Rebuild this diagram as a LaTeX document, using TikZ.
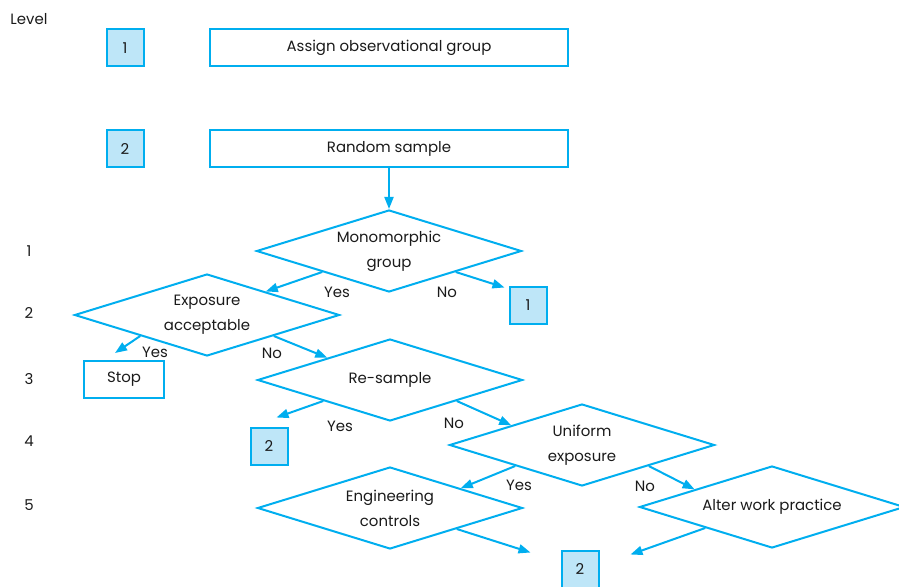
\documentclass[tikz,border=0pt]{standalone}
\usepackage{fontspec}
\setmainfont{Poppins}
\usepackage{tikz}
\usetikzlibrary{
  shapes.geometric,
  calc,
  arrows.meta
}
\definecolor{flowline}{HTML}{00AEEF}
\definecolor{flowfill}{HTML}{BEE6F8}
\definecolor{textmain}{HTML}{1A1A1A}

\begin{document}
\begin{tikzpicture}[x=1bp, y=-1bp,
    every node/.style={font=\fontsize{15}{25}\selectfont, text=textmain},
    fbox/.style={draw=flowline, line width=2bp, minimum height=37bp,
                 inner sep=0pt},
    numbox/.style={fbox, fill=flowfill, minimum width=37bp},
    dbox/.style={diamond, aspect=3.23, draw=flowline, line width=2bp,
                 inner sep=0pt, minimum width=265bp, minimum height=82bp,
                 align=center},
    arr/.style={draw=flowline, line width=2bp,
                -{Triangle[length=12bp,width=9bp]}},
  ]
  \useasboundingbox (0,0) rectangle (899,587);

  \node (level) at (29,19) {Level};
  \foreach \l/\y in {1/251,2/313,3/379,4/441,5/505}
    \node (lv\l) at (29,\y) {\l};

  \node[numbox] (top1) at (125,48)  {1};
  \node[fbox, minimum width=358bp] (assign) at (389,47.5) {Assign observational group};
  \node[numbox] (top2) at (125,149) {2};
  \node[fbox, minimum width=358bp] (rand) at (389,148.5) {Random sample};

  \node[dbox] (mono)  at (389,251) {Monomorphic\\group};
  \node[dbox] (expo)  at (207,315) {Exposure\\acceptable};
  \node[dbox] (resam) at (390,380) {Re-sample};
  \node[dbox] (unif)  at (582,445) {Uniform\\exposure};
  \node[dbox] (eng)   at (390,508) {Engineering\\controls};
  \node[dbox] (alter) at (772,507) {Alter work practice};

  \node[numbox] (back1) at (528,305) {1};
  \node[fbox, minimum width=80bp] (stop) at (124,379.5) {Stop};
  \node[numbox] (back2a) at (269,446) {2};
  \node[numbox] (back2b) at (580,569) {2};

  \draw[arr] (rand.south) -- (mono.north);
  \draw[arr] ($(mono.west)!.5!(mono.south)$) -- ($(expo.north)!.44!(expo.east)$);
  \draw[arr] ($(mono.south)!.5!(mono.east)$) -- ($(back1.north west)+(-4,2)$);
  \draw[arr] ($(expo.west)!.5!(expo.south)$) -- ($(stop.north)+(-9,-7)$);
  \draw[arr] ($(expo.south)!.5!(expo.east)$) -- ($(resam.north)!.47!(resam.west)$);
  \draw[arr] ($(resam.west)!.5!(resam.south)$) -- ($(back2a.north east)+(-12,-9)$);
  \draw[arr] ($(resam.south)!.5!(resam.east)$) -- ($(unif.north)!.53!(unif.west)$);
  \draw[arr] ($(unif.west)!.5!(unif.south)$) -- ($(eng.north)!.53!(eng.east)$);
  \draw[arr] ($(unif.south)!.5!(unif.east)$) -- ($(alter.north)!.58!(alter.west)$);
  \draw[arr] ($(eng.south)!.5!(eng.east)$) -- ($(back2b.north west)+(-30,3)$);
  \draw[arr] ($(alter.west)!.5!(alter.south)$) -- ($(back2b.north east)+(31,5)$);

  \node (y1) at (337,292) {Yes};
  \node (n1) at (447,292) {No};
  \node (y2) at (155,352) {Yes};
  \node (n2) at (272,353) {No};
  \node (y3) at (340,426) {Yes};
  \node (n3) at (454,423) {No};
  \node (y4) at (519,485) {Yes};
  \node (n4) at (645,486) {No};
\end{tikzpicture}
\end{document}
